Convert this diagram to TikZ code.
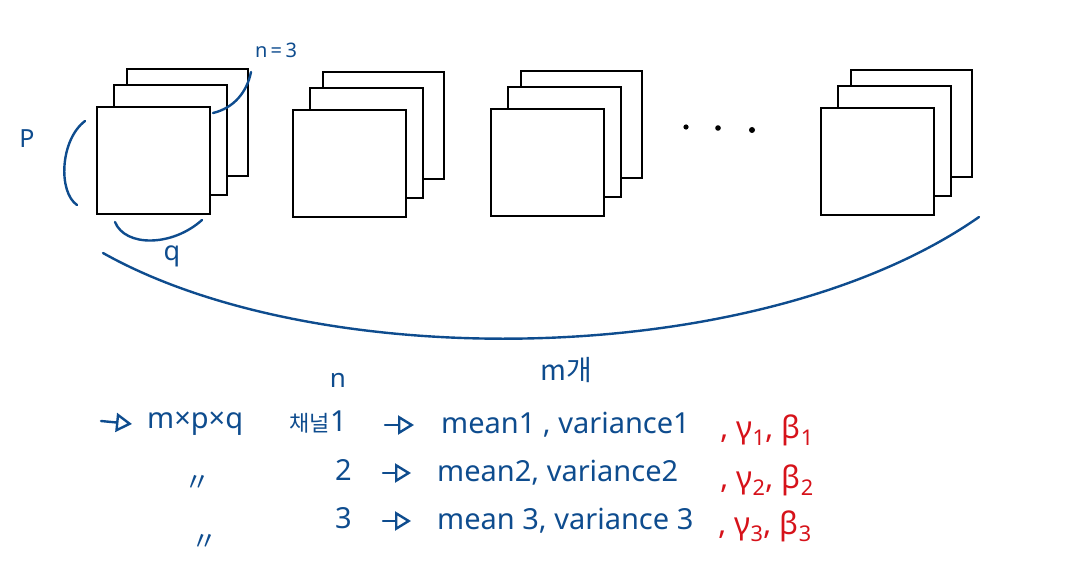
\documentclass[tikz,border=0pt]{standalone}
\usepackage{fontspec}
\setmainfont{Noto Sans}
\newfontfamily\krfont{Noto Sans CJK KR}
\usetikzlibrary{arrows.meta}
\definecolor{penblue}{RGB}{14,76,142}
\definecolor{penred}{RGB}{214,18,26}
\tikzset{
  sheet/.style={draw=black, line width=2.4pt, fill=white, line join=miter},
  bluepen/.style={draw=penblue, line width=2.4pt, line cap=round},
  btxt/.style={text=penblue, inner sep=0pt, font=\fontsize{29}{32}\selectfont},
  rtxt/.style={text=penred, inner sep=0pt, font=\fontsize{31}{34}\selectfont},
  hand/.style={draw=penblue, line width=2.4pt, line cap=round, -{Triangle[open, length=16pt, width=19pt, line width=2.4pt]}},
  stack/.pic={
    \draw[sheet] (30,-38) rectangle (151,69);
    \draw[sheet] (17,-22) rectangle (130,88);
    \draw[sheet] (0,0) rectangle (113,107);
  }
}
\begin{document}
\begin{tikzpicture}[x=1pt, y=-1pt]
\useasboundingbox (0,0) rectangle (1075,580);
% stacks
\pic at (97,107) {stack};
\pic at (293,110) {stack};
\pic at (491,109) {stack};
\pic at (821,108) {stack};
% dots
\fill (686,127) circle (2.6pt);
\fill (718,128) circle (2.8pt);
\fill (752,130) circle (3pt);
% braces
\draw[bluepen] (85,121) .. controls (60,140) and (58,192) .. (77,205);
\draw[bluepen] (115,222) .. controls (125,247) and (172,247) .. (202,220);
\draw[bluepen] (213,113) .. controls (234,108) and (247,92) .. (251,72);
\draw[bluepen] (103,253) .. controls (320,375) and (760,370) .. (979,217);
% labels on figure
\node[btxt, font=\fontsize{25}{28}\selectfont] (lp) at (27,139) {P};
\node[btxt, font=\fontsize{27}{30}\selectfont] (lq) at (172,256) {q};
\node[btxt, font=\fontsize{20}{24}\selectfont] (ln3) at (276,50) {n\,=\,3};
\node[btxt, font=\fontsize{26}{30}\selectfont] (ln) at (338,380) {n};
\node[btxt, font=\fontsize{28}{32}\krfont\selectfont] (lm) at (566,370) {m개};
% row 1
\coordinate (a0) at (101,421);
\node[btxt, anchor=west] (mpq) at (147,424) {m×p×q};
\node[btxt, anchor=east] (c1) at (347,422) {{\krfont\fontsize{22}{26}\selectfont 채널}1};
\node[btxt, anchor=west] (mv1) at (441,425) {mean1 , variance1};
\node[rtxt, anchor=west] (gb1) at (720,430) {, γ\textsubscript{1}, β\textsubscript{1}};
% row 2
\node[btxt, font=\fontsize{26}{30}\krfont\selectfont] (d2) at (197,483) {〃};
\node[btxt, anchor=east] (c2) at (352,470) {2};
\node[btxt, anchor=west] (mv2) at (437,473) {mean2, variance2};
\node[rtxt, anchor=west] (gb2) at (720,480) {, γ\textsubscript{2}, β\textsubscript{2}};
% row 3
\node[btxt, font=\fontsize{26}{30}\krfont\selectfont] (d3) at (204,542) {〃};
\node[btxt, anchor=east] (c3) at (352,518) {3};
\node[btxt, anchor=west] (mv3) at (437,521) {mean 3, variance 3};
\node[rtxt, anchor=west] (gb3) at (718,526) {, γ\textsubscript{3}, β\textsubscript{3}};
% arrows
\draw[hand] (a0) -- ([xshift=-15pt]mpq.west);
\draw[hand, shorten <=38pt, shorten >=27pt] (c1.east |- mv1.west) -- (mv1.west);
\draw[hand, shorten <=31pt, shorten >=26pt] (c2.east |- mv2.west) -- (mv2.west);
\draw[hand, shorten <=31pt, shorten >=26pt] (c3.east |- mv3.west) -- (mv3.west);
\end{tikzpicture}
\end{document}
